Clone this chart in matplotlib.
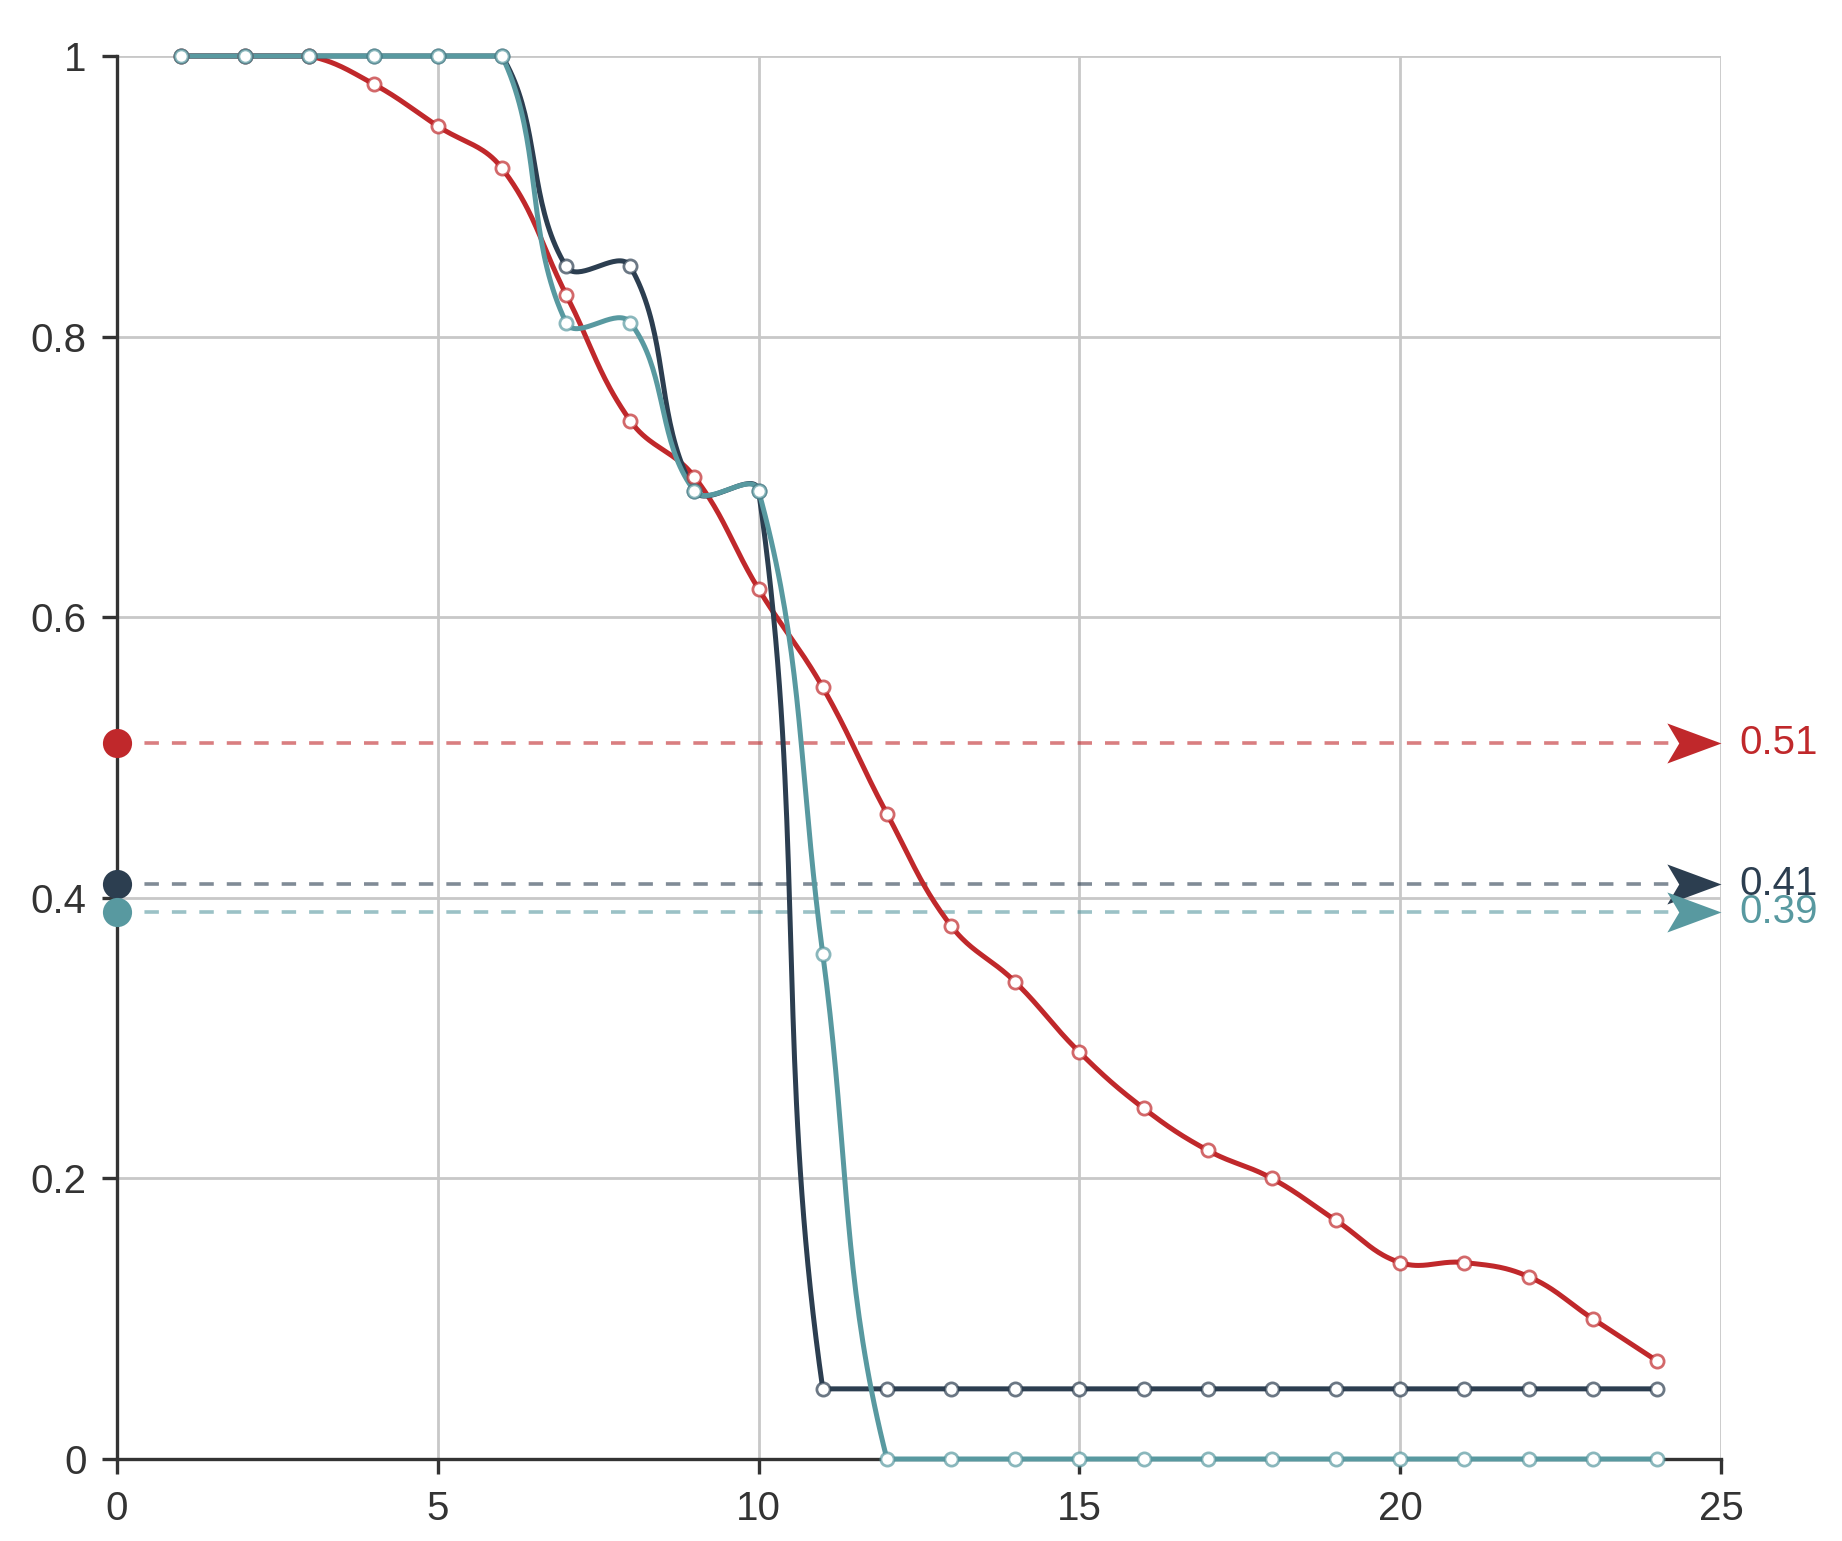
import numpy as np
import matplotlib
matplotlib.use("Agg")
import matplotlib.pyplot as plt
from matplotlib.path import Path
from matplotlib.colors import to_rgba

plt.rcParams['font.family'] = ['Liberation Sans Narrow', 'Liberation Sans', 'DejaVu Sans']

# data
x_vals = list(range(1, 25))
red_vals = [1, 1, 1, 0.98, 0.95, 0.92, 0.83, 0.74, 0.70, 0.62, 0.55, 0.46,
            0.38, 0.34, 0.29, 0.25, 0.22, 0.20, 0.17, 0.14, 0.14, 0.13, 0.10, 0.07]
navy_vals = [1, 1, 1, 1, 1, 1, 0.85, 0.85, 0.69, 0.69, 0.05, 0.05,
             0.05, 0.05, 0.05, 0.05, 0.05, 0.05, 0.05, 0.05, 0.05, 0.05, 0.05, 0.05]
teal_vals = [1, 1, 1, 1, 1, 1, 0.81, 0.81, 0.69, 0.69, 0.36, 0,
             0, 0, 0, 0, 0, 0, 0, 0, 0, 0, 0, 0]
ref_vals = [0.51, 0.41, 0.39]
series_colors = ['#c0282b', '#2c3e50', '#5899a0']
x_ticks = [0, 5, 10, 15, 20, 25]
y_ticks = [0, 0.2, 0.4, 0.6, 0.8, 1]
y_tick_labels = ['0', '0.2', '0.4', '0.6', '0.8', '1']

W, H = 1842, 1541
fig = plt.figure(figsize=(W / 100, H / 100), dpi=100)
ax = fig.add_axes([117 / W, 1 - 1459 / H, 1604 / W, 1403 / H])
ax.set_xlim(0, 25)
ax.set_ylim(0, 1)

# pixels per data unit (spline is computed in screen space)
sx = 1604 / 25.0
sy = 1403 / 1.0


def spline(xs, ys, t=0.4, n=40):
    xs = np.asarray(xs, float)
    ys = np.asarray(ys, float)
    m = len(xs)
    cp_prev = np.zeros((m, 2))
    cp_next = np.zeros((m, 2))
    for i in range(m):
        p = (xs[max(i - 1, 0)], ys[max(i - 1, 0)])
        c = (xs[i], ys[i])
        q = (xs[min(i + 1, m - 1)], ys[min(i + 1, m - 1)])
        d01 = np.hypot((c[0] - p[0]) * sx, (c[1] - p[1]) * sy)
        d12 = np.hypot((q[0] - c[0]) * sx, (q[1] - c[1]) * sy)
        tot = d01 + d12
        s01 = d01 / tot if tot else 0
        s12 = d12 / tot if tot else 0
        cp_prev[i] = (c[0] - t * s01 * (q[0] - p[0]), c[1] - t * s01 * (q[1] - p[1]))
        cp_next[i] = (c[0] + t * s12 * (q[0] - p[0]), c[1] + t * s12 * (q[1] - p[1]))
        # keep long flat runs flat
        if i + 2 < m and ys[i] == ys[i + 1] == ys[i + 2]:
            cp_next[i, 1] = ys[i]
    # cap control points to the chart area
    cp_prev[:, 0] = np.clip(cp_prev[:, 0], 0, 25)
    cp_next[:, 0] = np.clip(cp_next[:, 0], 0, 25)
    cp_prev[:, 1] = np.clip(cp_prev[:, 1], 0, 1)
    cp_next[:, 1] = np.clip(cp_next[:, 1], 0, 1)
    u = np.linspace(0, 1, n)[:, None]
    out = []
    for i in range(m - 1):
        p0 = np.array([xs[i], ys[i]])
        p1 = cp_next[i]
        p2 = cp_prev[i + 1]
        p3 = np.array([xs[i + 1], ys[i + 1]])
        seg = ((1 - u) ** 3) * p0 + 3 * ((1 - u) ** 2) * u * p1 + 3 * (1 - u) * u ** 2 * p2 + u ** 3 * p3
        out.append(seg if i == 0 else seg[1:])
    pts = np.vstack(out)
    return pts[:, 0], pts[:, 1]


# grid and axes
ax.set_xticks(x_ticks)
ax.set_yticks(y_ticks)
ax.set_yticklabels(y_tick_labels)
ax.grid(True, color='#c8c8c8', linewidth=2.0, zorder=0)
ax.set_axisbelow(True)
for s in ['top', 'right']:
    ax.spines[s].set_visible(False)
for s in ['left', 'bottom']:
    ax.spines[s].set_color('#333333')
    ax.spines[s].set_linewidth(2.4)
    ax.spines[s].set_zorder(2)
ax.tick_params(axis='both', length=11, width=2.4, color='#333333',
               labelsize=29, labelcolor='#333333', pad=11)

# reference dashed lines with arrows
arrow = Path([(0, 0), (-1, 0.37), (-0.78, 0), (-1, -0.37), (0, 0)],
             [Path.MOVETO, Path.LINETO, Path.LINETO, Path.LINETO, Path.CLOSEPOLY])
for v, c in zip(ref_vals, series_colors):
    ax.plot([0, 24.3], [v, v], color=c, alpha=0.6, linewidth=2.6,
            dashes=(4.0, 3.6), zorder=3)
    ax.plot([25], [v], marker=arrow, markersize=78, color=c,
            markeredgewidth=0, linestyle='none', clip_on=False, zorder=4)
    ax.annotate(f"{v:.2f}", xy=(1, v), xycoords=('axes fraction', 'data'),
                xytext=(13, 0), textcoords='offset points', ha='left', va='center',
                color=c, fontsize=29, annotation_clip=False)

# series
for vals, c in zip([red_vals, navy_vals, teal_vals], series_colors):
    cx, cy = spline(x_vals, vals)
    ax.plot(cx, cy, color=c, linewidth=3.6, zorder=5, clip_on=False,
            solid_capstyle='round')
    ax.plot(x_vals, vals, linestyle='none', marker='o', markersize=9.5,
            markerfacecolor='white', markeredgecolor=to_rgba(c, 0.7),
            markeredgewidth=2.0, zorder=6, clip_on=False)

# dots on the y axis
for v, c in zip(ref_vals, series_colors):
    ax.plot([0], [v], marker='o', markersize=21, color=c,
            markeredgewidth=0, clip_on=False, zorder=7)

fig.savefig('out.png', dpi=100)
